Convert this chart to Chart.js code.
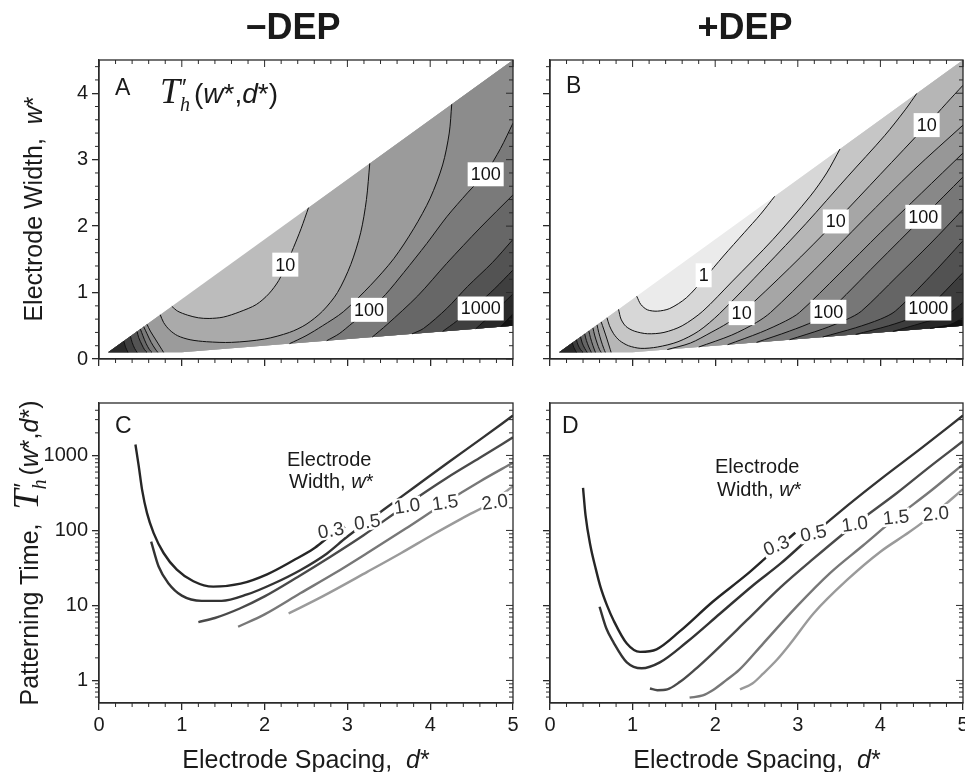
<!DOCTYPE html>
<html>
<head>
<meta charset="utf-8">
<script src="https://cdn.jsdelivr.net/npm/chart.js@4.4.1/dist/chart.umd.min.js"></script>
<style>
html, body { margin: 0; padding: 0; background: #fff; }
#wrap { position: relative; width: 965px; height: 772px; overflow: hidden; }
#wrap canvas { position: absolute; left: 0; top: 0; }
.t { position: absolute; white-space: nowrap; font-family: 'Liberation Sans', Arial, sans-serif; color: #1a1a1a; line-height: 1; }
.ttl { font-size: 36px; font-weight: bold; width: 200px; text-align: center; }
.let { font-size: 23px; }
.yt { font-size: 25px; transform: translate(-50%, -50%) rotate(-90deg); }
.xt { font-size: 25px; width: 300px; text-align: center; }
.lab { font-size: 20px; }
.T { font-family: 'Liberation Serif', 'Times New Roman', serif; font-style: italic; font-size: 36px; }
.hs { font-family: 'Liberation Serif', serif; font-style: italic; font-size: 20px; position: relative; top: 8px; margin-right: 4px; }
.p { position: absolute; left: 2px; top: -17px; font-family: 'Liberation Sans', Arial, sans-serif; font-style: normal; font-size: 24px; }
</style>
</head>
<body>
<div id="wrap">
  <canvas id="chartA" width="965" height="772"></canvas>
  <canvas id="chartB" width="965" height="772"></canvas>
  <canvas id="chartC" width="965" height="772"></canvas>
  <canvas id="chartD" width="965" height="772"></canvas>

  <div class="t ttl" style="left:193px;top:9px">&minus;DEP</div>
  <div class="t ttl" style="left:645px;top:9px">+DEP</div>

  <div class="t let" style="left:115px;top:76px">A</div>
  <div class="t let" style="left:566px;top:74px">B</div>
  <div class="t let" style="left:115px;top:414px">C</div>
  <div class="t let" style="left:562px;top:414px">D</div>

  <div class="t" style="left:160px;top:73px;font-size:28px"><span class="T">T</span><span class="hs">h<span class="p">&prime;</span></span>(<i>w</i>*,<i>d</i>*)</div>

  <div class="t yt" style="left:33px;top:209px">Electrode Width,&nbsp; <i>w</i>*</div>
  <div class="t yt" style="left:26px;top:553px"><span>Patterning Time,&nbsp; </span><span class="T">T</span><span class="hs">h<span class="p">&prime;</span></span>(<i>w</i>*,<i>d</i>*)</div>

  <div class="t xt" style="left:156px;top:747px">Electrode Spacing,&nbsp; <i>d</i>*</div>
  <div class="t xt" style="left:607px;top:747px">Electrode Spacing,&nbsp; <i>d</i>*</div>

  <div class="t lab" style="left:287px;top:449px">Electrode</div>
  <div class="t lab" style="left:289px;top:471px">Width, <i>w</i>*</div>
  <div class="t lab" style="left:715px;top:456px">Electrode</div>
  <div class="t lab" style="left:717px;top:479px">Width, <i>w</i>*</div>
</div>

<script>
Chart.defaults.font.family = "'Liberation Sans', Arial, sans-serif";
Chart.defaults.font.size = 20;
Chart.defaults.color = '#1a1a1a';

// ---------- panels A / B : contour maps, points are [d*, w*] ----------
// corners of the valid (d*, w*) wedge
const V = [0.111, 0.1], C1 = [1, 0.1], C2 = [5, 0.5], C3 = [5, 4.5];
const regionEdge = [V, C1, C2, C3];

const levelsA = [10, 20, 50, 100, 200, 500, 1000, 2000, 5000];
const shadesA = ['#bcbcbc', '#aaaaaa', '#9b9b9b', '#8c8c8c', '#7a7a7a', '#676767', '#535353', '#3f3f3f', '#2a2a2a', '#141414'];

const a10 = [[0.88,0.792],[0.95,0.72],[1.07,0.66],[1.2,0.62],[1.33,0.61],[1.5,0.63],[1.7,0.71],[1.9,0.82],[2.05,0.98],[2.17,1.18],[2.26,1.42],[2.35,1.68],[2.44,1.96],[2.53,2.277]];
const a20 = [[0.74,0.666],[0.78,0.55],[0.85,0.44],[0.95,0.35],[1.1,0.29],[1.3,0.26],[1.6,0.25],[2.0,0.3],[2.3,0.4],[2.5,0.52],[2.7,0.72],[2.88,1.0],[3.04,1.42],[3.16,1.9],[3.23,2.4],[3.27,2.943]];
const a50tip = [[0.58,0.522],[0.62,0.42],[0.68,0.3],[0.74,0.18],[0.78,0.1]];
const a50 = [[2.3,0.23],[2.5,0.35],[2.7,0.5],[2.95,0.71],[3.28,1.11],[3.56,1.51],[3.8,1.96],[4.0,2.42],[4.15,2.92],[4.23,3.4],[4.26,3.834]];
const a100tip = [[0.54,0.486],[0.58,0.38],[0.63,0.25],[0.68,0.15],[0.71,0.1]];
const a100 = [[2.75,0.275],[2.9,0.38],[3.06,0.54],[3.26,0.73],[3.46,0.97],[3.68,1.3],[3.96,1.74],[4.2,2.14],[4.45,2.5],[4.67,2.8],[4.85,3.17],[5,3.55]];
const a200tip = [[0.5,0.45],[0.53,0.35],[0.57,0.23],[0.61,0.14],[0.64,0.1]];
const a200 = [[3.3,0.33],[3.48,0.52],[3.85,0.95],[4.2,1.44],[4.6,1.97],[5,2.47]];
const a500tip = [[0.46,0.414],[0.48,0.32],[0.52,0.21],[0.55,0.14],[0.58,0.1]];
const a500 = [[3.78,0.378],[3.92,0.46],[4.2,0.76],[4.45,1.09],[4.75,1.45],[5,1.8]];
const a1000tip = [[0.38,0.342],[0.4,0.25],[0.43,0.16],[0.46,0.1]];
const a1000 = [[4.15,0.415],[4.32,0.57],[4.55,0.8],[4.78,1.06],[5,1.34]];
const a2000tip = [[0.3,0.27],[0.32,0.18],[0.35,0.1]];
const a2000 = [[4.55,0.455],[4.75,0.68],[5,0.98]];
const a5000 = [[4.85,0.485],[5,0.68]];

const contoursA = [
  {level: 10, kind: 'U', pts: a10},
  {level: 20, kind: 'U', pts: a20},
  {level: 50, kind: 'arc', pts: a50tip},
  {level: 50, kind: 'up', pts: a50},
  {level: 100, kind: 'arc', pts: a100tip},
  {level: 100, kind: 'right', pts: a100},
  {level: 200, kind: 'arc', pts: a200tip},
  {level: 200, kind: 'right', pts: a200},
  {level: 500, kind: 'arc', pts: a500tip},
  {level: 500, kind: 'right', pts: a500},
  {level: 1000, kind: 'arc', pts: a1000tip},
  {level: 1000, kind: 'right', pts: a1000},
  {level: 2000, kind: 'arc', pts: a2000tip},
  {level: 2000, kind: 'right', pts: a2000},
  {level: 5000, kind: 'right', pts: a5000}
];
const labelsA = [
  {text: '10', x: 2.25, y: 1.42},
  {text: '100', x: 3.26, y: 0.74},
  {text: '100', x: 4.67, y: 2.78},
  {text: '1000', x: 4.61, y: 0.76}
];

const levelsB = [1, 2, 5, 10, 20, 50, 100, 200, 500, 1000, 2000, 5000];
const shadesB = ['#ebebeb', '#d7d7d7', '#c6c6c6', '#b6b6b6', '#a6a6a6', '#979797', '#888888', '#777777', '#656565', '#525252', '#3d3d3d', '#272727', '#111111'];

const b1 = [[1.05,0.945],[1.1,0.82],[1.18,0.74],[1.3,0.72],[1.45,0.76],[1.65,0.92],[1.86,1.2],[2.1,1.55],[2.35,1.9],[2.55,2.18],[2.72,2.448]];
const b2 = [[0.83,0.747],[0.86,0.6],[0.92,0.49],[1.02,0.42],[1.18,0.38],[1.38,0.4],[1.6,0.5],[1.85,0.72],[2.2,1.16],[2.7,1.8],[3.15,2.45],[3.35,2.8],[3.51,3.159]];
const b5 = [[0.69,0.621],[0.72,0.5],[0.77,0.38],[0.84,0.28],[0.95,0.2],[1.1,0.16],[1.3,0.18],[1.55,0.26],[1.8,0.42],[2.05,0.68],[2.6,1.38],[3.1,2.04],[3.6,2.74],[4.05,3.36],[4.3,3.75],[4.44,3.996]];
const b10tip = [[0.62,0.558],[0.65,0.45],[0.69,0.3],[0.72,0.18],[0.74,0.1]];
const b10 = [[1.42,0.142],[1.7,0.24],[1.95,0.4],[2.15,0.54],[2.32,0.69],[2.9,1.37],[3.46,2.07],[4.0,2.78],[4.56,3.52],[4.8,3.85],[5,4.12]];
const b20tip = [[0.57,0.513],[0.59,0.4],[0.62,0.27],[0.65,0.16],[0.67,0.1]];
const b20 = [[1.8,0.18],[2.2,0.36],[2.5,0.55],[2.67,0.7],[3.2,1.34],[3.8,2.1],[4.4,2.84],[5,3.52]];
const b50tip = [[0.52,0.468],[0.54,0.36],[0.57,0.24],[0.6,0.14],[0.62,0.1]];
const b50 = [[2.15,0.215],[2.55,0.4],[2.85,0.57],[3.02,0.7],[3.5,1.28],[4.0,1.9],[4.5,2.5],[5,3.1]];
const b100tip = [[0.47,0.423],[0.49,0.32],[0.52,0.2],[0.55,0.1]];
const b100 = [[2.5,0.25],[2.9,0.42],[3.2,0.57],[3.37,0.71],[3.95,1.43],[4.52,2.14],[5,2.74]];
const b200tip = [[0.42,0.378],[0.44,0.28],[0.47,0.18],[0.5,0.1]];
const b200 = [[2.9,0.29],[3.3,0.45],[3.6,0.6],[3.77,0.72],[4.2,1.24],[4.6,1.73],[5,2.25]];
const b500tip = [[0.37,0.333],[0.39,0.24],[0.42,0.16],[0.45,0.1]];
const b500 = [[3.3,0.33],[3.7,0.47],[4.0,0.6],[4.18,0.72],[4.6,1.24],[5,1.78]];
const b1000tip = [[0.32,0.288],[0.34,0.21],[0.37,0.14],[0.4,0.1]];
const b1000 = [[3.7,0.37],[4.1,0.5],[4.4,0.63],[4.58,0.77],[5,1.3]];
const b2000tip = [[0.27,0.243],[0.29,0.17],[0.32,0.1]];
const b2000 = [[4.15,0.415],[4.5,0.54],[4.8,0.66],[5,0.85]];
const b5000 = [[4.6,0.46],[4.85,0.52],[5,0.62]];

const contoursB = [
  {level: 1, kind: 'U', pts: b1},
  {level: 2, kind: 'U', pts: b2},
  {level: 5, kind: 'U', pts: b5},
  {level: 10, kind: 'arc', pts: b10tip},
  {level: 10, kind: 'right', pts: b10},
  {level: 20, kind: 'arc', pts: b20tip},
  {level: 20, kind: 'right', pts: b20},
  {level: 50, kind: 'arc', pts: b50tip},
  {level: 50, kind: 'right', pts: b50},
  {level: 100, kind: 'arc', pts: b100tip},
  {level: 100, kind: 'right', pts: b100},
  {level: 200, kind: 'arc', pts: b200tip},
  {level: 200, kind: 'right', pts: b200},
  {level: 500, kind: 'arc', pts: b500tip},
  {level: 500, kind: 'right', pts: b500},
  {level: 1000, kind: 'arc', pts: b1000tip},
  {level: 1000, kind: 'right', pts: b1000},
  {level: 2000, kind: 'arc', pts: b2000tip},
  {level: 2000, kind: 'right', pts: b2000},
  {level: 5000, kind: 'right', pts: b5000}
];
const labelsB = [
  {text: '1', x: 1.86, y: 1.26},
  {text: '10', x: 2.32, y: 0.69},
  {text: '10', x: 3.46, y: 2.07},
  {text: '10', x: 4.56, y: 3.52},
  {text: '100', x: 3.37, y: 0.71},
  {text: '100', x: 4.52, y: 2.14},
  {text: '1000', x: 4.58, y: 0.76}
];

// ---------- panels C / D : patterning time vs spacing ----------
const widths = ['0.3', '0.5', '1.0', '1.5', '2.0'];
const curveColors = ['#262626', '#333333', '#4a4a4a', '#777777', '#9a9a9a'];

const dC03 = [0.44,0.48,0.52,0.58,0.66,0.78,0.94,1.14,1.38,1.71,2.03,2.35,2.59,2.77,2.97];
const tC03 = [1400,720,350,170,92,50,30,21,17.8,19.5,26,40,57,81,112];
const dC05 = [0.63,0.72,0.84,1.0,1.24,1.48,1.79,2.11,2.43,2.75,2.99,3.24,3.44,3.8,4.2,4.61,5];
const tC05 = [71,33,19.6,13.5,11.5,11.5,14,19.6,29.5,49,81,130,190,370,780,1650,3400];
const dC10 = [1.2,1.4,1.7,2.0,2.4,2.8,3.2,3.7,4.2,4.6,5];
const tC10 = [6.0,6.8,9.1,13.2,24,45,87,214,500,930,1740];
const dC15 = [1.68,2.0,2.43,2.85,3.24,3.7,4.18,4.6,5];
const tC15 = [5.2,7.6,14.5,27,50,105,234,450,800];
const dC20 = [2.29,2.7,3.24,3.65,4.04,4.4,4.75,5];
const tC20 = [7.8,13.2,28,50,89,148,240,390];

const dD03 = [0.40,0.43,0.49,0.55,0.61,0.69,0.77,0.93,1.09,1.29,1.57,1.97,2.38,2.66,2.97];
const tD03 = [370,160,62,32,17.8,10,6.3,3.1,2.4,2.6,4.5,11.2,25.7,48,93];
const dD05 = [0.6,0.68,0.77,0.93,1.11,1.33,1.65,2.06,2.46,2.79,3.19,3.6,4.0,4.5,5];
const tD05 = [9.6,5.0,3.2,1.74,1.45,1.74,3.2,7.8,18.6,36,89,214,480,1260,3400];
const dD10 = [1.21,1.3,1.42,1.57,1.75,1.97,2.38,2.79,3.19,3.69,4.2,4.6,5];
const tD10 = [0.78,0.74,0.76,0.95,1.38,2.3,6.3,17.4,42,120,316,710,1550];
const dD15 = [1.69,1.85,1.97,2.13,2.29,2.58,2.98,3.39,3.79,4.19,4.6,5];
const tD15 = [0.59,0.63,0.74,1.0,1.38,3.1,9.5,27,63,148,330,760];
const dD20 = [2.3,2.45,2.58,2.75,2.91,3.19,3.6,4.0,4.35,4.67,5];
const tD20 = [0.76,0.91,1.23,1.9,3.1,7.8,22,52,95,174,355];

const labelsC = [
  {text: '0.3', x: 2.8, y: 100, rot: -10},
  {text: '0.5', x: 3.24, y: 130, rot: -8},
  {text: '1.0', x: 3.72, y: 212, rot: -8},
  {text: '1.5', x: 4.18, y: 236, rot: -8},
  {text: '2.0', x: 4.78, y: 240, rot: -8}
];
const labelsD = [
  {text: '0.3', x: 2.74, y: 63, rot: -22},
  {text: '0.5', x: 3.19, y: 92, rot: -12},
  {text: '1.0', x: 3.69, y: 122, rot: -8},
  {text: '1.5', x: 4.19, y: 150, rot: -6},
  {text: '2.0', x: 4.67, y: 168, rot: -5}
];

// ---------- helpers ----------
const tails = {U: [C3, C2, C1, V], arc: [V], up: [C3, C2], right: [C2]};
const toXY = pts => pts.map(p => ({x: p[0], y: p[1]}));

function contourDatasets(contours, levels, shades) {
  const ds = [{data: toXY(regionEdge), fill: 'shape', backgroundColor: shades[0], borderWidth: 0, pointRadius: 0, order: 1000}];
  contours.forEach(c => {
    const k = levels.indexOf(c.level);
    ds.push({data: toXY(c.pts.concat(tails[c.kind])), fill: 'shape', backgroundColor: shades[k + 1],
             borderWidth: 0, pointRadius: 0, order: 900 - k});
  });
  contours.forEach(c => {
    ds.push({data: toXY(c.pts), borderColor: '#111', borderWidth: 1, pointRadius: 0, fill: false, tension: 0.3, order: 0});
  });
  return ds;
}

function curve(d, t, color) {
  return {data: d.map((x, i) => ({x: x, y: t[i]})), borderColor: color, borderWidth: 2.4, pointRadius: 0,
          fill: false, cubicInterpolationMode: 'monotone'};
}

// fixed axis thickness so the plot areas line up with the reference
function axis(size) {
  return {
    grid: {drawOnChartArea: false, tickLength: 7, color: '#2a2a2a', lineWidth: 1.3},
    border: {color: '#2a2a2a', width: 1.3},
    afterFit: s => {
      if (s.isHorizontal()) s.height = size; else s.width = size;
      s.paddingLeft = 0; s.paddingRight = 0; s.paddingTop = 0; s.paddingBottom = 0;
    }
  };
}

const xMinor = [], linMinor = [], logMinor = [];
for (let i = 1; i < 25; i++) if (i % 5) xMinor.push(i / 5);
for (let i = 1; i < 23; i++) if (i % 5) linMinor.push(i / 5);
[0.1, 1, 10, 100, 1000].forEach(dec => { for (let m = 2; m < 10; m++) { const v = m * dec; if (v > 0.5 && v < 5000) logMinor.push(v); } });

const boxLabels = {
  id: 'boxLabels',
  afterDatasetsDraw(chart, args, o) {
    const {ctx, scales: {x, y}} = chart;
    ctx.save();
    ctx.font = o.size + "px 'Liberation Sans', Arial, sans-serif";
    ctx.textAlign = 'center';
    ctx.textBaseline = 'middle';
    o.items.forEach(L => {
      const px = x.getPixelForValue(L.x), py = y.getPixelForValue(L.y);
      const w = ctx.measureText(L.text).width + 2 * o.padX;
      ctx.save();
      ctx.translate(px, py);
      ctx.rotate((L.rot || 0) * Math.PI / 180);
      ctx.fillStyle = '#fff';
      ctx.fillRect(-w / 2, -o.boxH / 2, w, o.boxH);
      ctx.fillStyle = o.color;
      ctx.fillText(L.text, 0, 1);
      ctx.restore();
    });
    ctx.restore();
  }
};

const frame = {
  id: 'frame',
  afterDraw(chart, args, o) {
    const {ctx, chartArea: a, scales: {x, y}} = chart;
    ctx.save();
    ctx.strokeStyle = '#2a2a2a';
    ctx.lineWidth = 1.3;
    ctx.strokeRect(a.left, a.top, a.right - a.left, a.bottom - a.top);
    ctx.lineWidth = 1;
    ctx.beginPath();
    const seg = (x1, y1, x2, y2) => { ctx.moveTo(x1, y1); ctx.lineTo(x2, y2); };
    o.xMinor.forEach(v => {
      const px = x.getPixelForValue(v);
      seg(px, a.bottom, px, a.bottom + 4);
      if (o.top) seg(px, a.top, px, a.top + 4);
    });
    if (o.top) [0, 1, 2, 3, 4, 5].forEach(v => { const px = x.getPixelForValue(v); seg(px, a.top, px, a.top + 7); });
    o.yMinor.forEach(v => {
      const py = y.getPixelForValue(v);
      seg(a.left - 4, py, a.left, py);
      seg(a.right - 4, py, a.right, py);
    });
    o.yMajor.forEach(v => { const py = y.getPixelForValue(v); seg(a.right - 7, py, a.right, py); });
    ctx.stroke();
    ctx.restore();
  }
};

function contourChart(id, pad, yw, contours, levels, shades, labels) {
  return new Chart(document.getElementById(id), {
    type: 'line',
    data: {datasets: contourDatasets(contours, levels, shades)},
    options: {
      responsive: false, animation: false, events: [],
      layout: {padding: pad},
      plugins: {
        legend: {display: false}, tooltip: {enabled: false},
        boxLabels: {items: labels, size: 18, padX: 3, boxH: 24, color: '#111'},
        frame: {top: true, xMinor: xMinor, yMinor: linMinor, yMajor: [0, 1, 2, 3, 4]}
      },
      scales: {
        x: Object.assign({type: 'linear', min: 0, max: 5, ticks: {display: false},
          afterBuildTicks: s => { s.ticks = [0, 1, 2, 3, 4, 5].map(v => ({value: v})); }}, axis(0)),
        y: Object.assign({type: 'linear', min: 0, max: 4.5, ticks: {display: yw > 0, padding: 4},
          afterBuildTicks: s => { s.ticks = [0, 1, 2, 3, 4].map(v => ({value: v})); }}, axis(yw))
      }
    },
    plugins: [boxLabels, frame]
  });
}

function timeChart(id, pad, yw, curves, labels) {
  return new Chart(document.getElementById(id), {
    type: 'line',
    data: {datasets: curves.map((c, i) => curve(c[0], c[1], curveColors[i]))},
    options: {
      responsive: false, animation: false, events: [],
      layout: {padding: pad},
      plugins: {
        legend: {display: false}, tooltip: {enabled: false},
        boxLabels: {items: labels, size: 19, padX: 1, boxH: 17, color: '#333'},
        frame: {top: false, xMinor: xMinor, yMinor: logMinor, yMajor: [1, 10, 100, 1000]}
      },
      scales: {
        x: Object.assign({type: 'linear', min: 0, max: 5, ticks: {padding: 3},
          afterBuildTicks: s => { s.ticks = [0, 1, 2, 3, 4, 5].map(v => ({value: v})); }}, axis(40)),
        y: Object.assign({type: 'logarithmic', min: 0.5, max: 5000,
          ticks: {display: yw > 0, padding: 4, callback: v => String(v)},
          afterBuildTicks: s => { s.ticks = [1, 10, 100, 1000].map(v => ({value: v})); }}, axis(yw))
      }
    },
    plugins: [boxLabels, frame]
  });
}

contourChart('chartA', {left: 29, top: 60, right: 452, bottom: 413}, 70, contoursA, levelsA, shadesA, labelsA);
contourChart('chartB', {left: 550, top: 60, right: 2, bottom: 413}, 0, contoursB, levelsB, shadesB, labelsB);
timeChart('chartC', {left: 29, top: 403, right: 452, bottom: 29}, 70,
  [[dC03, tC03], [dC05, tC05], [dC10, tC10], [dC15, tC15], [dC20, tC20]], labelsC);
timeChart('chartD', {left: 550, top: 403, right: 2, bottom: 29}, 0,
  [[dD03, tD03], [dD05, tD05], [dD10, tD10], [dD15, tD15], [dD20, tD20]], labelsD);
</script>
</body>
</html>
